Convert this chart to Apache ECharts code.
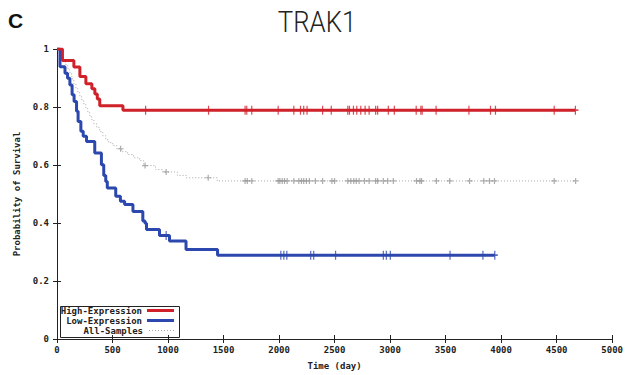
<!DOCTYPE html>
<html>
<head>
<meta charset="utf-8">
<script src="https://cdn.jsdelivr.net/npm/echarts@6/dist/echarts.min.js"></script>
<style>
  html, body { margin: 0; padding: 0; background: #fff; }
  #chart { width: 626px; height: 375px; }
</style>
</head>
<body>
<div id="chart"></div>
<script>
// Kaplan-Meier survival curves for TRAK1 expression groups.
// Each curve: event times (days) and survival probability after the step.
const highTimes = [0, 49, 152, 206, 260, 314, 341, 363, 385, 594, 4669];
const highSurv  = [1, 0.960, 0.938, 0.905, 0.880, 0.863, 0.845, 0.828, 0.804, 0.789, 0.789];

const lowTimes = [0, 27, 72, 95, 116, 136, 154, 176, 190, 215, 236, 266, 340, 400, 421, 439, 453,
                  529, 571, 609, 684, 773, 793, 806, 923, 1013, 1162, 1446, 3943];
const lowSurv  = [1, 0.939, 0.916, 0.899, 0.876, 0.842, 0.819, 0.785, 0.750, 0.716, 0.699, 0.681, 0.641,
                  0.601, 0.564, 0.543, 0.521, 0.492, 0.475, 0.464, 0.440, 0.407, 0.399, 0.378, 0.357,
                  0.338, 0.309, 0.289, 0.289];

const allTimes = [0, 27, 45, 63, 81, 99, 116, 134, 152, 170, 188, 206, 224, 242, 260, 278, 296, 314,
                  332, 358, 385, 412, 439, 466, 502, 538, 582, 636, 690, 744, 780, 887, 950, 1084,
                  1165, 1443, 4671];
const allSurv  = [1, 0.979, 0.969, 0.955, 0.942, 0.928, 0.914, 0.897, 0.880, 0.863, 0.849, 0.835,
                  0.821, 0.808, 0.794, 0.780, 0.766, 0.756, 0.742, 0.729, 0.715, 0.701, 0.687, 0.677,
                  0.667, 0.656, 0.646, 0.636, 0.625, 0.615, 0.598, 0.584, 0.576, 0.564, 0.556, 0.545,
                  0.545];

// Censoring times (days)
const highCensor = [798, 1365, 1694, 1709, 1754, 1992, 2133, 2193, 2222, 2252, 2392, 2470, 2619, 2634,
                    2670, 2700, 2736, 2775, 2811, 2870, 2888, 2984, 3038, 3235, 3277, 3289, 3414, 3710,
                    3904, 3949, 4478, 4669];
const lowCensor  = [983, 2016, 2043, 2070, 2285, 2312, 2509, 2939, 2966, 3002, 3540, 3836, 3943];
const allCensor  = [573, 793, 983, 1362, 1694, 1714, 1754, 1992, 2007, 2028, 2049, 2073, 2133, 2178,
                    2202, 2222, 2246, 2273, 2327, 2392, 2476, 2500, 2619, 2646, 2673, 2695, 2721, 2769,
                    2811, 2870, 2888, 2939, 2978, 3029, 3238, 3268, 3283, 3417, 3537, 3716, 3844, 3895,
                    3940, 4478, 4671];

const groupNames = ['High-Expression', 'Low-Expression', 'All-Samples'];
const xTicks = { min: 0, max: 5000, step: 500 };
const yTicks = { min: 0, max: 1, step: 0.2 };

const RED = '#d0202a';
const BLUE = '#2c47ad';
const GREY = '#a8a8a8';
const MONO = 'DejaVu Sans Mono';

function curve(times, surv) {
  return times.map((t, i) => [t, surv[i]]);
}
// survival value of a step curve at time t
function survAt(times, surv, t) {
  let v = surv[0];
  for (let i = 0; i < times.length; i++) {
    if (times[i] <= t) v = surv[i];
  }
  return v;
}
function marks(censor, times, surv) {
  return censor.map(t => [t, survAt(times, surv, t)]);
}

const PLUS = 'path://M4,0H6V4H10V6H6V10H4V6H0V4H4Z';
// legend keys: a solid bar and a row of dots
const SOLID_KEY = 'path://M0,0H27V3H0Z';
let dots = '';
for (let i = 0; i < 27; i += 3) dots += 'M' + i + ',0H' + (i + 1) + 'V1H' + i + 'Z';
const DOTTED_KEY = 'path://' + dots;

const chart = echarts.init(document.getElementById('chart'), null, { renderer: 'svg' });

const axisLabel = { fontFamily: MONO, fontWeight: 'bold', fontSize: 9, color: '#222' };
const frameLine = { show: true, lineStyle: { color: '#222', width: 1 } };
const tick = { show: true, inside: true, length: 4, lineStyle: { color: '#222', width: 1 } };

function legendItem(name, icon, color, h, top) {
  return {
    data: [{ name: name, icon: icon, itemStyle: { color: color } }],
    right: 452,
    top: top,
    orient: 'horizontal',
    align: 'right',
    padding: 0,
    itemWidth: 27,
    itemHeight: h,
    itemGap: 0,
    selectedMode: false,
    textStyle: { fontFamily: MONO, fontWeight: 'bold', fontSize: 9, color: '#222' }
  };
}

chart.setOption({
  animation: false,
  backgroundColor: '#fff',
  grid: { left: 57, right: 11, top: 49, bottom: 35 },
  graphic: [
    { type: 'text', left: 8, top: 10, style: { text: 'C', font: 'bold 21px "Liberation Sans"', fill: '#111' } },
    { type: 'text', x: 317, y: 22, scaleX: 0.86,
      style: { text: 'TRAK1', font: '300 30px Roboto', fill: '#222', textAlign: 'center', textVerticalAlign: 'middle' } },
    { type: 'rect', shape: { x: 60.5, y: 306.5, width: 119, height: 31 },
      style: { fill: '#fff', stroke: '#222', lineWidth: 1 }, z: 0 }
  ],
  legend: [
    legendItem(groupNames[0], SOLID_KEY, RED, 3, 306),
    legendItem(groupNames[1], SOLID_KEY, BLUE, 3, 316),
    legendItem(groupNames[2], DOTTED_KEY, GREY, 1, 326)
  ],
  xAxis: [
    {
      type: 'value', min: xTicks.min, max: xTicks.max, interval: xTicks.step,
      name: 'Time (day)', nameLocation: 'middle', nameGap: 22,
      nameTextStyle: { fontFamily: MONO, fontWeight: 'bold', fontSize: 9, color: '#222' },
      axisLine: frameLine, axisTick: tick, splitLine: { show: false },
      axisLabel: Object.assign({ margin: 6, formatter: v => String(v) }, axisLabel)
    },
    {
      type: 'value', position: 'top', min: xTicks.min, max: xTicks.max, interval: xTicks.step,
      axisLine: frameLine, axisTick: tick, splitLine: { show: false }, axisLabel: { show: false }
    }
  ],
  yAxis: [
    {
      type: 'value', min: yTicks.min, max: yTicks.max, interval: yTicks.step,
      name: 'Probability of Survival', nameLocation: 'middle', nameGap: 36, nameRotate: 90,
      nameTextStyle: { fontFamily: MONO, fontWeight: 'bold', fontSize: 9, color: '#222' },
      axisLine: frameLine, axisTick: tick, splitLine: { show: false },
      axisLabel: Object.assign({
        margin: 8,
        formatter: v => (v === 0 ? '0' : v === 1 ? '1' : v.toFixed(1))
      }, axisLabel)
    },
    {
      type: 'value', position: 'right', min: yTicks.min, max: yTicks.max, interval: yTicks.step,
      axisLine: frameLine, axisTick: tick, splitLine: { show: false }, axisLabel: { show: false }
    }
  ],
  series: [
    {
      name: groupNames[2], type: 'line', step: 'end', symbol: 'none', z: 2,
      data: curve(allTimes, allSurv),
      lineStyle: { color: GREY, width: 1, type: [1, 2] }, itemStyle: { color: GREY }
    },
    {
      name: groupNames[1], type: 'line', step: 'end', symbol: 'none', z: 3,
      data: curve(lowTimes, lowSurv),
      lineStyle: { color: BLUE, width: 3 }, itemStyle: { color: BLUE }
    },
    {
      name: groupNames[0], type: 'line', step: 'end', symbol: 'none', z: 3,
      data: curve(highTimes, highSurv),
      lineStyle: { color: RED, width: 3 }, itemStyle: { color: RED }
    },
    {
      type: 'scatter', symbol: PLUS, symbolSize: 6, z: 2, silent: true,
      data: marks(allCensor, allTimes, allSurv), itemStyle: { color: '#999' }
    },
    {
      type: 'scatter', symbol: PLUS, symbolSize: [6, 9], z: 4, silent: true,
      data: marks(lowCensor, lowTimes, lowSurv), itemStyle: { color: BLUE }
    },
    {
      type: 'scatter', symbol: PLUS, symbolSize: [6, 9], z: 4, silent: true,
      data: marks(highCensor, highTimes, highSurv), itemStyle: { color: RED }
    }
  ]
});
</script>
</body>
</html>
